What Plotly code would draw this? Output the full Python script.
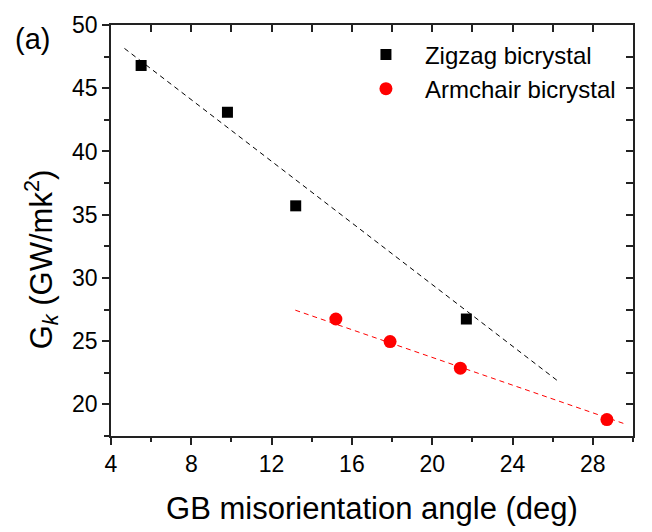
import plotly.graph_objects as go

# Data
zig_x = [5.5, 9.8, 13.2, 21.7]
zig_y = [46.8, 43.1, 35.7, 26.75]
arm_x = [15.2, 17.9, 21.4, 28.7]
arm_y = [26.75, 24.97, 22.86, 18.8]
zig_fit_x = [4.67, 26.34]
zig_fit_y = [48.15, 21.75]
arm_fit_x = [13.18, 29.7]
arm_fit_y = [27.45, 18.4]

FONT = "Arial, Liberation Sans, sans-serif"
XR = [4, 30]
YR = [17.5, 50]

fig = go.Figure()
fig.add_trace(go.Scatter(x=zig_fit_x, y=zig_fit_y, mode="lines",
                         line=dict(color="black", width=1, dash="5px,4px"),
                         showlegend=False, hoverinfo="skip"))
fig.add_trace(go.Scatter(x=arm_fit_x, y=arm_fit_y, mode="lines",
                         line=dict(color="#ff0000", width=1, dash="5px,4px"),
                         showlegend=False, hoverinfo="skip"))
fig.add_trace(go.Scatter(x=zig_x, y=zig_y, mode="markers", name="Zigzag bicrystal",
                         marker=dict(symbol="square", size=11, color="black"),
                         xaxis="x2", yaxis="y2"))
fig.add_trace(go.Scatter(x=arm_x, y=arm_y, mode="markers", name="Armchair bicrystal",
                         marker=dict(symbol="circle", size=13, color="#ff0000"),
                         xaxis="x2", yaxis="y2"))

axis_common = dict(showgrid=False, zeroline=False, showline=True,
                   linecolor="#222", linewidth=1.5, tickcolor="#222", tickwidth=1.5)

fig.update_layout(
    width=652, height=532,
    margin=dict(l=111, r=19, t=16, b=91),
    plot_bgcolor="white", paper_bgcolor="white",
    font=dict(family=FONT, color="black"),
    xaxis=dict(range=XR, dtick=4, tick0=4, ticks="outside", ticklen=7,
               minor=dict(dtick=2, ticks="outside", ticklen=4, tickcolor="#222", tickwidth=1.5),
               tickfont=dict(size=23, family=FONT),
               title=dict(text="GB misorientation angle (deg)", font=dict(size=31, family=FONT), standoff=21),
               **axis_common),
    yaxis=dict(range=YR, dtick=5, tick0=20, ticks="outside", ticklen=7,
               minor=dict(dtick=2.5, ticks="outside", ticklen=5, tickcolor="#222", tickwidth=1.5),
               tickfont=dict(size=23, family=FONT),
               **axis_common),
    xaxis2=dict(range=XR, dtick=2, tick0=4, ticks="inside", ticklen=7, side="top",
                overlaying="x", anchor="y2", showticklabels=False, **axis_common),
    yaxis2=dict(range=YR, dtick=2.5, tick0=20, ticks="inside", ticklen=7, side="right",
                overlaying="y", anchor="x2", showticklabels=False, **axis_common),
    legend=dict(x=0.452, y=0.982, xanchor="left", yanchor="top",
                font=dict(size=24, family=FONT), bgcolor="rgba(0,0,0,0)",
                itemwidth=68, tracegroupgap=0),
    annotations=[
        dict(text="(a)", xref="paper", yref="paper", x=-0.188, y=0.965,
             xanchor="left", yanchor="middle", showarrow=False,
             font=dict(size=29, family=FONT)),
        dict(text="G<sub><i>k</i></sub> (GW/mk<sup>2</sup>)", xref="paper", yref="paper",
             x=-0.134, y=0.43, xanchor="center", yanchor="middle", textangle=-90,
             showarrow=False, font=dict(size=31, family=FONT)),
    ],
)

fig.write_html("out.html", config={"displayModeBar": False},
               post_script="document.body.style.margin='0';document.body.style.overflow='hidden';")
